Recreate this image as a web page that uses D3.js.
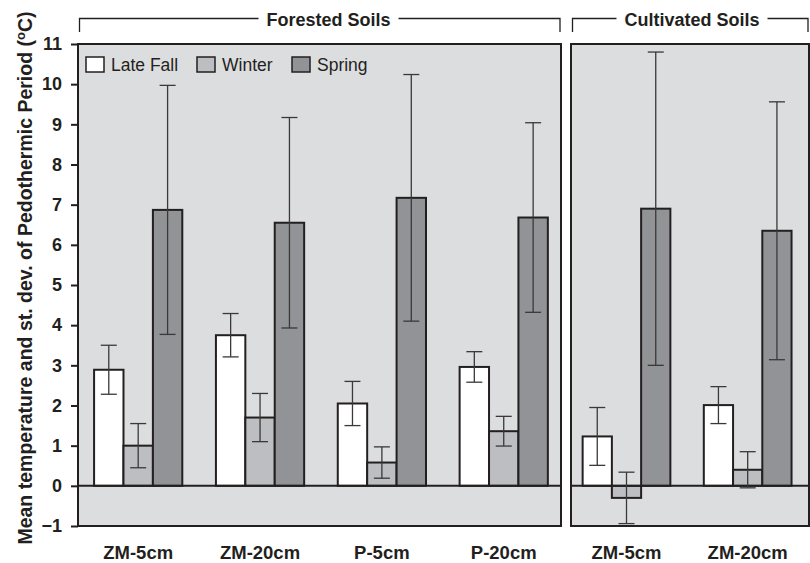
<!DOCTYPE html>
<html>
<head>
<meta charset="utf-8">
<script src="https://cdn.jsdelivr.net/npm/d3@7"></script>
<style>
  body { margin: 0; background: #fff; }
  text { font-family: "Liberation Sans", Arial, sans-serif; fill: #231f20; }
</style>
</head>
<body>
<script>
// Data
const seasons = ["Late Fall", "Winter", "Spring"];
const forestSites = ["ZM-5cm", "ZM-20cm", "P-5cm", "P-20cm"];
const cultSites = ["ZM-5cm", "ZM-20cm"];
// means per site: [late fall, winter, spring]
const forestMeans = [[2.89, 1.0, 6.87], [3.75, 1.7, 6.55], [2.05, 0.58, 7.17], [2.96, 1.36, 6.68]];
const forestSd = [[0.61, 0.55, 3.1], [0.54, 0.6, 2.62], [0.55, 0.39, 3.07], [0.38, 0.37, 2.36]];
const cultMeans = [[1.23, -0.3, 6.9], [2.01, 0.4, 6.35]];
const cultSd = [[0.72, 0.64, 3.9], [0.46, 0.45, 3.21]];
const yTicks = [-1, 0, 1, 2, 3, 4, 5, 6, 7, 8, 9, 10, 11];

const W = 810, H = 563;
const plotTop = 44, plotBottom = 526;
const leftX = [78, 561], rightX = [571, 809];

const colors = { "Late Fall": "#ffffff", "Winter": "#bdbec2", "Spring": "#929397" };
const ink = "#231f20";

const svg = d3.select("body").append("svg")
  .attr("width", W).attr("height", H);

const y = d3.scaleLinear().domain([-1, 11]).range([plotBottom, plotTop]);

function panel(sites, means, sds, range, title, align) {
  const g = svg.append("g");
  const x0 = d3.scaleBand().domain(sites).range(range)
    .paddingInner(0.276).paddingOuter(0.12).align(align);
  const x1 = d3.scaleBand().domain(seasons).range([0, x0.bandwidth()]);

  // background
  g.append("rect")
    .attr("x", range[0]).attr("y", y(11))
    .attr("width", range[1] - range[0]).attr("height", y(-1) - y(11))
    .attr("fill", "#dcdddf");

  // bars
  sites.forEach((s, i) => {
    seasons.forEach((se, j) => {
      const v = means[i][j];
      g.append("rect")
        .attr("x", x0(s) + x1(se))
        .attr("y", y(Math.max(0, v)))
        .attr("width", x1.bandwidth())
        .attr("height", Math.abs(y(v) - y(0)))
        .attr("fill", colors[se])
        .attr("stroke", ink).attr("stroke-width", 2);
    });
  });

  // zero line
  g.append("line")
    .attr("x1", range[0]).attr("x2", range[1])
    .attr("y1", y(0)).attr("y2", y(0))
    .attr("stroke", ink).attr("stroke-width", 2);

  // error bars
  sites.forEach((s, i) => {
    seasons.forEach((se, j) => {
      const cx = x0(s) + x1(se) + x1.bandwidth() / 2;
      const lo = means[i][j] - sds[i][j], hi = means[i][j] + sds[i][j];
      const eb = g.append("g").attr("stroke", "#3a3839").attr("stroke-width", 1.3);
      eb.append("line").attr("x1", cx).attr("x2", cx).attr("y1", y(lo)).attr("y2", y(hi));
      [lo, hi].forEach(v => eb.append("line")
        .attr("x1", cx - 8).attr("x2", cx + 8).attr("y1", y(v)).attr("y2", y(v)));
    });
  });

  // frame
  g.append("rect")
    .attr("x", range[0]).attr("y", y(11))
    .attr("width", range[1] - range[0]).attr("height", y(-1) - y(11))
    .attr("fill", "none").attr("stroke", ink).attr("stroke-width", 2);

  // category labels
  sites.forEach(s => {
    g.append("text")
      .attr("x", x0(s) + x0.bandwidth() / 2).attr("y", 559)
      .attr("text-anchor", "middle")
      .style("font-size", "18.5px").style("font-weight", "bold")
      .text(s);
  });

  // bracket header
  const mid = (range[0] + range[1]) / 2 + (title === "Forested Soils" ? 9 : 2);
  const t = g.append("text")
    .attr("x", mid).attr("y", 26)
    .attr("text-anchor", "middle")
    .style("font-size", "18px").style("font-weight", "bold")
    .text(title);
  const tw = t.node().getComputedTextLength();
  const by = 18.5, bx0 = range[0] + 1.5, bx1 = range[1] - 1;
  g.append("path")
    .attr("d", `M${bx0},32V${by}H${mid - tw / 2 - 8}M${mid + tw / 2 + 8},${by}H${bx1}V32`)
    .attr("fill", "none").attr("stroke", ink).attr("stroke-width", 1.3);
}

panel(forestSites, forestMeans, forestSd, leftX, "Forested Soils", 0.55);
panel(cultSites, cultMeans, cultSd, rightX, "Cultivated Soils", 0.4);

// y axis
const yAxis = svg.append("g")
  .attr("transform", `translate(${leftX[0]},0)`)
  .call(d3.axisLeft(y).tickValues(yTicks).tickSize(7).tickPadding(9).tickFormat(d3.format("d")));
yAxis.select(".domain").remove();
yAxis.selectAll("line").attr("stroke", ink).attr("stroke-width", 2);
yAxis.selectAll("text")
  .style("font-size", "18px").style("font-weight", "bold")
  .style("font-family", "'Liberation Sans', Arial, sans-serif")
  .attr("fill", ink);

// y title
const yt = svg.append("text")
  .attr("transform", "translate(32,278) rotate(-90)")
  .attr("text-anchor", "middle")
  .style("font-size", "19.5px").style("font-weight", "bold");
yt.append("tspan").text("Mean temperature and st. dev. of Pedothermic Period (");
yt.append("tspan").attr("dy", -7).style("font-size", "13px").text("o");
yt.append("tspan").attr("dy", 7).text("C)");

// legend
const legend = svg.append("g");
const legX = [86, 197, 292];
seasons.forEach((se, i) => {
  legend.append("rect")
    .attr("x", legX[i]).attr("y", 57)
    .attr("width", 18).attr("height", 15)
    .attr("fill", colors[se]).attr("stroke", ink).attr("stroke-width", 1.5);
  legend.append("text")
    .attr("x", legX[i] + 25).attr("y", 71)
    .style("font-size", "17.5px")
    .text(se);
});
</script>
</body>
</html>
